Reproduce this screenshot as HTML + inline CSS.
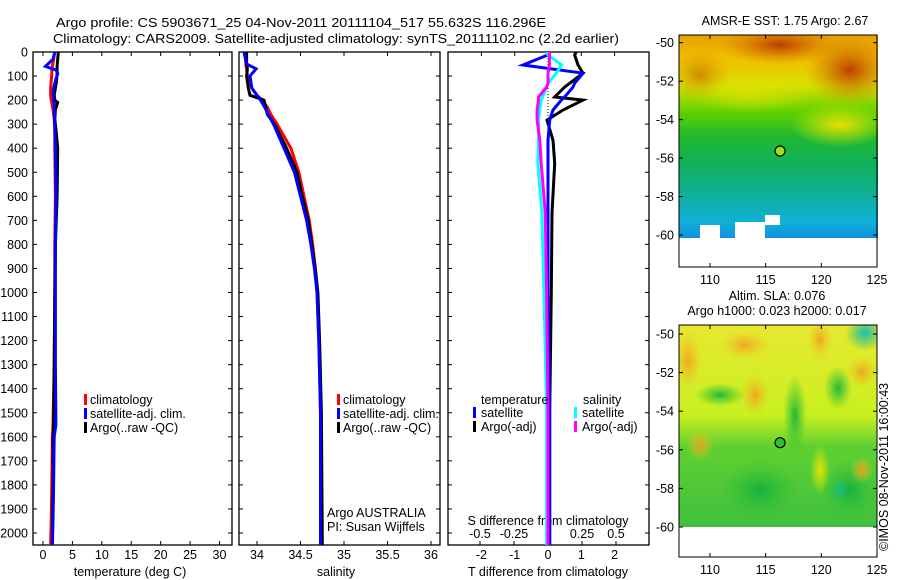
<!DOCTYPE html>
<html><head><meta charset="utf-8"><style>
body{margin:0;background:#fff}
svg{display:block;font-family:"Liberation Sans",Arial,sans-serif}
text{font-size:12.5px;fill:#000}
</style></head><body>
<svg id="chart" width="900" height="580" viewBox="0 0 900 580" xmlns="http://www.w3.org/2000/svg">
<defs>
<linearGradient id="sstg" x1="0" y1="0" x2="0" y2="1">
<stop offset="0" stop-color="#e8a000"/><stop offset="0.12" stop-color="#f0c000"/><stop offset="0.25" stop-color="#d8e000"/><stop offset="0.38" stop-color="#60d000"/><stop offset="0.5" stop-color="#20b830"/><stop offset="0.65" stop-color="#10b060"/><stop offset="0.8" stop-color="#10b0a0"/><stop offset="0.92" stop-color="#10b0d8"/><stop offset="1" stop-color="#1090e0"/></linearGradient>
<radialGradient id="hot" cx="0.5" cy="0.5" r="0.5"><stop offset="0" stop-color="#b83000" stop-opacity="0.9"/><stop offset="1" stop-color="#d07000" stop-opacity="0"/></radialGradient>
<radialGradient id="yel" cx="0.5" cy="0.5" r="0.5"><stop offset="0" stop-color="#f0e000" stop-opacity="0.95"/><stop offset="1" stop-color="#e0f000" stop-opacity="0"/></radialGradient>
<linearGradient id="slag" x1="0" y1="0" x2="0" y2="1">
<stop offset="0" stop-color="#e8e830"/><stop offset="0.45" stop-color="#c8f020"/><stop offset="0.6" stop-color="#60d030"/><stop offset="1" stop-color="#40c040"/></linearGradient>
<radialGradient id="org" cx="0.5" cy="0.5" r="0.5"><stop offset="0" stop-color="#f0a020" stop-opacity="0.9"/><stop offset="1" stop-color="#f0c020" stop-opacity="0"/></radialGradient>
<radialGradient id="grn" cx="0.5" cy="0.5" r="0.5"><stop offset="0" stop-color="#10b040" stop-opacity="0.9"/><stop offset="1" stop-color="#30c030" stop-opacity="0"/></radialGradient>
<radialGradient id="tea" cx="0.5" cy="0.5" r="0.5"><stop offset="0" stop-color="#10c0c0" stop-opacity="0.95"/><stop offset="1" stop-color="#10b080" stop-opacity="0"/></radialGradient>
<clipPath id="c1"><rect x="679" y="35" width="199" height="203"/></clipPath>
<clipPath id="c2"><rect x="679" y="325" width="198" height="202"/></clipPath>
<clipPath id="p1"><rect x="33" y="52" width="199" height="493"/></clipPath>
<clipPath id="p2"><rect x="239" y="52" width="201" height="493"/></clipPath>
<clipPath id="p3"><rect x="448" y="52" width="201" height="493"/></clipPath>
</defs>
<text x="56" y="27" textLength="490" lengthAdjust="spacingAndGlyphs" font-size="14">Argo profile: CS 5903671_25 04-Nov-2011 20111104_517 55.632S 116.296E</text>
<text x="53" y="43" textLength="566" lengthAdjust="spacingAndGlyphs" font-size="14">Climatology: CARS2009. Satellite-adjusted climatology: synTS_20111102.nc (2.2d earlier)</text>
<g clip-path="url(#c1)">
<rect x="679" y="35" width="199" height="203" fill="url(#sstg)"/>
<ellipse cx="780" cy="45" rx="60" ry="20" fill="url(#hot)"/>
<ellipse cx="850" cy="70" rx="45" ry="35" fill="url(#hot)"/>
<ellipse cx="700" cy="75" rx="30" ry="25" fill="url(#hot)" opacity="0.5"/>
<ellipse cx="840" cy="125" rx="50" ry="22" fill="url(#yel)"/>
<ellipse cx="750" cy="95" rx="60" ry="18" fill="url(#yel)" opacity="0.6"/>
<rect x="700" y="225" width="20" height="13" fill="#fff"/>
<rect x="735" y="222" width="30" height="16" fill="#fff"/>
<rect x="765" y="215" width="15" height="10" fill="#fff"/>
</g>
<g clip-path="url(#c2)">
<rect x="679" y="325" width="198" height="202" fill="url(#slag)"/>
<ellipse cx="688" cy="360" rx="14" ry="30" fill="url(#org)"/>
<ellipse cx="745" cy="345" rx="25" ry="14" fill="url(#org)"/>
<ellipse cx="755" cy="395" rx="14" ry="22" fill="url(#org)"/>
<ellipse cx="820" cy="340" rx="12" ry="20" fill="url(#org)"/>
<ellipse cx="862" cy="372" rx="16" ry="16" fill="url(#org)"/>
<ellipse cx="700" cy="445" rx="14" ry="16" fill="url(#org)"/>
<ellipse cx="865" cy="333" rx="20" ry="18" fill="url(#tea)"/>
<ellipse cx="838" cy="388" rx="14" ry="22" fill="url(#grn)"/>
<ellipse cx="795" cy="415" rx="12" ry="40" fill="url(#grn)"/>
<ellipse cx="760" cy="490" rx="40" ry="30" fill="url(#grn)"/>
<ellipse cx="720" cy="395" rx="25" ry="12" fill="url(#grn)"/>
<ellipse cx="850" cy="490" rx="30" ry="30" fill="url(#grn)"/>
<ellipse cx="840" cy="490" rx="10" ry="12" fill="url(#tea)" opacity="0.6"/>
<ellipse cx="820" cy="470" rx="10" ry="25" fill="url(#yel)"/>
<ellipse cx="862" cy="470" rx="12" ry="14" fill="url(#org)"/>
</g>
<g id="g"></g>
<text x="785" y="25" text-anchor="middle">AMSR-E SST: 1.75 Argo: 2.67</text>
<text x="777" y="300" text-anchor="middle">Altim. SLA: 0.076</text>
<text x="777" y="315" text-anchor="middle">Argo h1000: 0.023 h2000: 0.017</text>
<text transform="translate(888,551) rotate(-90)" font-size="12">©IMOS 08-Nov-2011 16:00:43</text>
</svg>
<script>
// ---- data ----
const depthTicks=[0,100,200,300,400,500,600,700,800,900,1000,1100,1200,1300,1400,1500,1600,1700,1800,1900,2000];
const tempTicks=[0,5,10,15,20,25,30];
const salTicks=[34,34.5,35,35.5,36];
const salTickLabels=["34","34.5","35","35.5","36"];
const tdTicks=[-2,-1,0,1,2];
const sdTicks=[-0.5,-0.25,0,0.25,0.5];
const sdTickLabels=["-0.5","-0.25","0","0.25","0.5"];
const latTicks=[-50,-52,-54,-56,-58,-60];
const lonTicks=[110,115,120,125];
const tempDepth=[0,30,60,75,90,120,150,180,200,210,240,280,320,400,600,800,1000,1300,1550,1600,1800,1950,2050];
const tempClim=[2.0,1.8,1.6,1.5,1.5,1.4,1.3,1.3,1.4,1.5,1.7,1.9,2.0,2.0,2.1,2.0,2.0,1.9,1.7,1.6,1.5,1.4,1.3];
const tempSat=[2.0,1.7,0.4,2.2,2.5,2.1,1.8,1.7,1.8,1.9,1.9,2.0,2.0,2.1,2.2,2.1,2.1,2.1,2.2,1.9,1.8,1.7,1.6];
const tempArgo=[2.6,2.5,2.4,2.4,2.4,2.3,2.1,1.9,2.0,2.5,2.1,2.0,2.2,2.5,2.4,2.1,2.0,1.9,1.8,1.7,1.7,1.6,1.6];
const salDepth=[0,50,70,100,150,180,200,230,260,300,400,500,600,700,800,900,1000,1200,1500,2050];
const salClim=[33.87,33.87,33.88,33.89,33.94,34.0,34.06,34.12,34.16,34.23,34.39,34.48,34.54,34.6,34.64,34.67,34.69,34.71,34.73,34.73];
const salSat=[33.85,33.88,33.99,33.92,33.94,34.0,34.04,34.09,34.13,34.19,34.31,34.43,34.5,34.57,34.62,34.66,34.69,34.71,34.73,34.73];
const salArgo=[33.88,33.88,33.89,33.88,33.9,33.92,34.08,34.1,34.12,34.2,34.34,34.46,34.52,34.59,34.63,34.67,34.7,34.72,34.74,34.75];
const diffDepth=[0,12,54,88,130,146,187,200,241,283,367,463,670,1000,1500,2050];
const tdSat=[0.0,0.0,-0.75,1.05,0.8,0.75,0.5,0.4,0.15,0.05,0.0,0.0,0.0,0.0,0.05,0.05];
const tdArgo=[0.85,0.8,0.9,1.05,0.65,0.5,0.2,1.05,0.45,-0.03,0.15,0.2,0.12,0.1,0.05,0.05];
const sdSat=[-0.01,0.0,0.1,0.06,0.0,-0.01,-0.04,-0.05,-0.06,-0.07,-0.07,-0.075,-0.045,-0.03,-0.01,-0.01];
const sdArgo=[0.01,0.01,0.01,0.0,0.0,-0.01,-0.07,-0.07,-0.08,-0.08,-0.06,-0.05,-0.02,-0.01,0.0,0.0];
const leg1Labels=["climatology","satellite-adj. clim.","Argo(..raw -QC)"];
const legColors=["#f00","#00f","#000"];

// ---- axes ----
const Y0=52, PXM=0.2405;
const yD=d=>Y0+d*PXM;
const xT=t=>43+t*5.883;
const xS=s=>257+(s-34)*87;
const xTD=t=>548+t*33.3;
const xSD=s=>548+s*136;
const yLat1=l=>42.7+(-50-l)*19.23;
const xLon1=l=>710+(l-110)*11.13;
const yLat2=l=>334+(-50-l)*19.3;

const NS='http://www.w3.org/2000/svg';
const G=document.getElementById('g');
function mk(tag,attrs,parent){const e=document.createElementNS(NS,tag);for(const k in attrs)e.setAttribute(k,attrs[k]);(parent||G).appendChild(e);return e;}
function txt(x,y,s,anchor,parent){const e=mk('text',{x:x,y:y,'text-anchor':anchor||'start'},parent);e.textContent=s;return e;}
function path(xs,ys,xf,color,clip,name){
  let d='';for(let i=0;i<xs.length;i++){d+=(i?'L':'M')+xf(xs[i]).toFixed(1)+','+yD(ys[i]).toFixed(1);}
  const p=mk('path',{d:d,fill:'none',stroke:color,'stroke-width':3,'clip-path':clip});
  
  
  return p;
}
function frame(x,w,name){
  const r=mk('rect',{x:x,y:52,width:w,height:493,fill:'none',stroke:'#000','stroke-width':1.3});
  
  
}
frame(33,199,'temperature-panel');frame(239,201,'salinity-panel');frame(448,201,'difference-panel');
depthTicks.forEach(d=>{
  const y=yD(d);
  [33,239,448].forEach(x=>{mk('line',{x1:x,y1:y,x2:x+4,y2:y,stroke:'#000'});});
  [232,440,649].forEach(x=>{mk('line',{x1:x,y1:y,x2:x-4,y2:y,stroke:'#000'});});
  const t=txt(28,y+4.5,String(d),'end');
  
  
});
tempTicks.forEach(v=>{const x=xT(v);mk('line',{x1:x,y1:52,x2:x,y2:56,stroke:'#000'});mk('line',{x1:x,y1:545,x2:x,y2:541,stroke:'#000'});
  const t=txt(x,559,String(v),'middle');
  
  });
salTicks.forEach((v,i)=>{const x=xS(v);mk('line',{x1:x,y1:52,x2:x,y2:56,stroke:'#000'});mk('line',{x1:x,y1:545,x2:x,y2:541,stroke:'#000'});
  const t=txt(x,559,salTickLabels[i],'middle');
  
  });
tdTicks.forEach(v=>{const x=xTD(v);mk('line',{x1:x,y1:52,x2:x,y2:56,stroke:'#000'});
  const t=txt(x,559,String(v),'middle');
  
  });
sdTicks.forEach((v,i)=>{const x=xSD(v);mk('line',{x1:x,y1:545,x2:x,y2:541,stroke:'#000'});
  const t=txt(x,538,sdTickLabels[i],'middle');
  
  });
let a;
a=txt(130,576,'temperature (deg C)','middle');
a=txt(336,576,'salinity','middle');
a=txt(548,576,'T difference from climatology','middle');
a=txt(548,525,'S difference from climatology','middle');
a=txt(327,517,'Argo AUSTRALIA');
a=txt(327,531,'PI: Susan Wijffels');
mk('line',{x1:548,y1:52,x2:548,y2:545,stroke:'#000','stroke-dasharray':'1,2'});
path(tempClim,tempDepth,xT,'#f00','url(#p1)','temp-climatology-line');
path(tempArgo,tempDepth,xT,'#000','url(#p1)','temp-argo-line');
path(tempSat,tempDepth,xT,'#00f','url(#p1)','temp-satellite-line');
path(salClim,salDepth,xS,'#f00','url(#p2)','sal-climatology-line');
path(salArgo,salDepth,xS,'#000','url(#p2)','sal-argo-line');
path(salSat,salDepth,xS,'#00f','url(#p2)','sal-satellite-line');
path(tdArgo,diffDepth,xTD,'#000','url(#p3)','t-diff-argo-line');
path(tdSat,diffDepth,xTD,'#00f','url(#p3)','t-diff-satellite-line');
path(sdSat,diffDepth,xSD,'#0ff','url(#p3)','s-diff-satellite-line');
path(sdArgo,diffDepth,xSD,'#f0f','url(#p3)','s-diff-argo-line');
[[84,90],[337,343]].forEach(([bx,tx],p)=>{
  leg1Labels.forEach((l,i)=>{const y=404+i*14;
    mk('rect',{x:bx,y:y-10,width:3,height:11,fill:legColors[i]});
    const t=txt(tx,y,l);
    
    });
});
a=txt(481,404,'temperature');
a=txt(583,404,'salinity');
[['#00f',473,481,'satellite',417],['#000',473,481,'Argo(-adj)',431],['#0ff',574,582,'satellite',417],['#f0f',574,582,'Argo(-adj)',431]].forEach(([c,bx,tx,l,y])=>{
  mk('rect',{x:bx,y:y-10,width:3,height:11,fill:c});
  const t=txt(tx,y,l);
  
  
});
function mapAxes(top,bottom,yLat,name){
  const r=mk('rect',{x:679,y:top,width:198,height:bottom-top,fill:'none',stroke:'#000'});
  
  
  latTicks.forEach(l=>{const y=yLat(l);mk('line',{x1:679,y1:y,x2:683,y2:y,stroke:'#000'});mk('line',{x1:877,y1:y,x2:873,y2:y,stroke:'#000'});
    const t=txt(674,y+4.5,String(l),'end');
    
    });
  lonTicks.forEach(l=>{const x=xLon1(l);mk('line',{x1:x,y1:top,x2:x,y2:top+4,stroke:'#000'});mk('line',{x1:x,y1:bottom,x2:x,y2:bottom-4,stroke:'#000'});
    const t=txt(x,bottom+17,String(l),'middle');
    
    });
}
mapAxes(35,267,yLat1,'sst-map-frame');
mapAxes(325,557,yLat2,'sla-map-frame');
const m1=mk('circle',{cx:xLon1(116.296),cy:yLat1(-55.632),r:5,fill:'#a0e020',stroke:'#000','stroke-width':1.2});


const m2=mk('circle',{cx:xLon1(116.296),cy:yLat2(-55.632),r:5,fill:'#30c030',stroke:'#000','stroke-width':1.2});


</script>
</body></html>
